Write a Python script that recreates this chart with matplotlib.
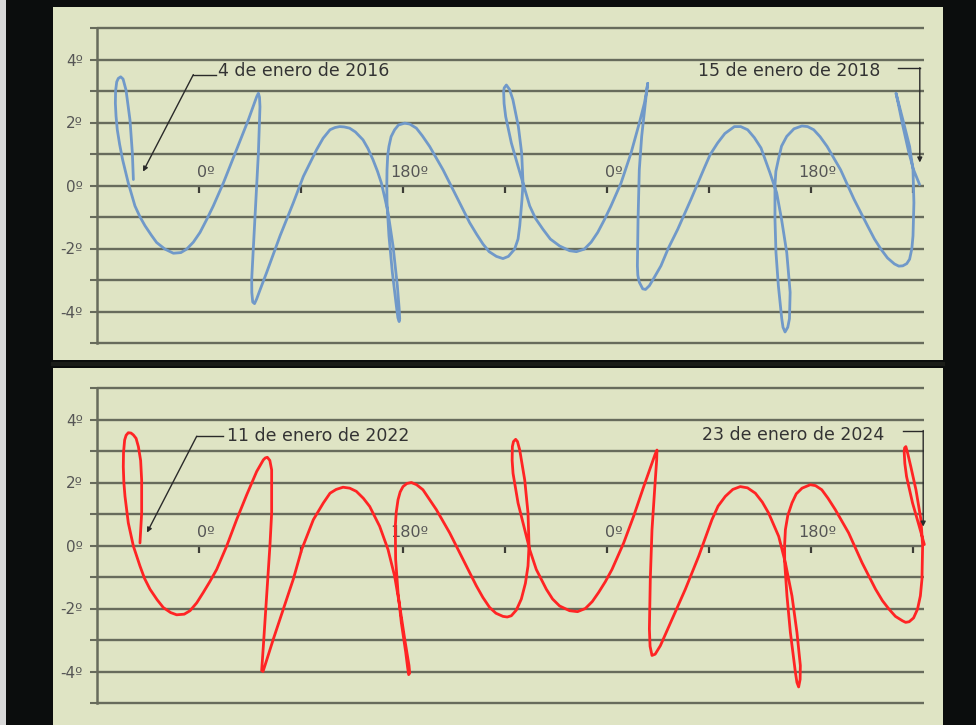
import matplotlib
matplotlib.use("Agg")
import matplotlib.pyplot as plt
from matplotlib.patches import Rectangle

plt.rcParams.update({
    "font.family": ["DejaVu Sans"],
    "font.size": 12,
})

# ---------------- data: (ecliptic longitude [deg], latitude [deg]) ----------------
blue_track = [
    (-57.9, 0.19), (-58.8, 1.03), (-60.9, 2.08), (-64.4, 3.03), (-67.0, 3.38), (-69.1, 3.45),
    (-71.2, 3.4), (-72.6, 3.29), (-73.6, 3.0), (-73.8, 2.61), (-73.2, 2.2), (-72.1, 1.77),
    (-70.0, 1.3), (-67.4, 0.82), (-62.4, 0.08), (-56.5, -0.65), (-52.0, -1.0), (-47.6, -1.28),
    (-42.0, -1.58), (-37.4, -1.81), (-30.0, -2.02), (-22.6, -2.15), (-16.0, -2.13),
    (-10.9, -2.02), (-5.0, -1.8), (0.9, -1.49), (6.5, -1.1), (12.6, -0.65), (21.5, 0.08),
    (33.2, 1.14), (43.5, 2.08), (50.9, 2.82), (52.4, 2.93), (53.4, 2.8), (53.8, 2.5),
    (52.4, 1.03), (50.9, 0.0), (48.5, -1.6), (46.5, -2.97), (46.6, -3.4), (47.4, -3.7),
    (49.0, -3.75), (50.9, -3.6), (54.0, -3.3), (59.7, -2.76), (71.5, -1.6), (83.2, -0.55),
    (92.1, 0.29), (103.8, 1.14), (109.5, 1.5), (115.6, 1.77), (120.0, 1.84), (124.1, 1.87),
    (128.0, 1.86), (132.9, 1.82), (138.0, 1.7), (144.7, 1.45), (149.0, 1.18), (153.5, 0.82),
    (157.5, 0.45), (160.9, 0.08), (164.0, -0.4), (166.8, -0.86), (171.2, -1.92),
    (175.0, -3.18), (176.6, -3.9), (177.1, -4.23), (176.6, -4.32), (175.5, -4.2),
    (174.1, -3.81), (170.6, -2.76), (167.6, -1.6), (165.9, -0.55), (165.7, 0.0),
    (165.9, 0.5), (166.5, 0.95), (167.6, 1.24), (169.5, 1.55), (172.6, 1.77), (176.0, 1.92),
    (181.5, 1.98), (186.0, 1.95), (191.8, 1.82), (197.0, 1.58), (203.5, 1.24), (215.3, 0.5),
    (227.1, -0.34), (238.8, -1.18), (245.0, -1.55), (250.6, -1.86), (256.0, -2.1),
    (262.4, -2.25), (268.2, -2.32), (273.0, -2.25), (278.5, -2.02), (281.5, -1.7),
    (283.0, -1.28), (285.0, -0.44), (285.9, 0.08), (284.7, 1.03), (281.8, 1.87),
    (277.0, 2.72), (274.0, 3.05), (271.2, 3.19), (269.3, 3.1), (268.8, 2.98), (269.2, 2.6),
    (270.6, 2.19), (275.6, 1.35), (281.5, 0.61), (286.5, 0.0), (291.8, -0.65),
    (297.0, -1.05), (303.5, -1.39), (310.0, -1.7), (318.2, -1.92), (327.0, -2.07),
    (333.0, -2.1), (340.0, -2.02), (346.0, -1.8), (351.8, -1.49), (357.5, -1.1),
    (363.5, -0.65), (372.4, 0.08), (381.2, 1.03), (388.5, 1.98), (393.0, 2.61),
    (395.0, 3.0), (395.9, 3.24), (395.0, 3.0), (393.5, 2.5), (390.6, 1.56), (388.5, 0.5),
    (387.4, -1.07), (386.8, -2.55), (387.2, -2.85), (388.5, -3.07), (391.5, -3.28),
    (394.0, -3.3), (397.4, -3.18), (402.0, -2.9), (407.6, -2.55), (414.0, -2.0),
    (422.4, -1.39), (434.1, -0.44), (445.9, 0.56), (451.0, 0.98), (457.6, 1.35),
    (464.0, 1.65), (472.4, 1.87), (478.0, 1.87), (484.1, 1.77), (490.0, 1.52),
    (495.9, 1.19), (503.8, 0.4), (509.7, -0.23), (514.0, -1.07), (518.6, -2.13),
    (521.6, -3.39), (521.0, -4.23), (519.5, -4.5), (517.1, -4.65), (515.3, -4.5),
    (514.2, -4.23), (511.2, -3.18), (509.1, -2.13), (508.2, -1.07), (508.2, 0.0),
    (509.0, 0.45), (511.2, 0.82), (514.0, 1.25), (518.6, 1.56), (525.0, 1.8), (532.0, 1.89),
    (537.0, 1.87), (542.4, 1.77), (548.0, 1.55), (554.2, 1.24), (566.1, 0.5), (578.0, -0.44),
    (589.9, -1.28), (596.0, -1.7), (601.7, -2.02), (607.5, -2.3), (613.6, -2.49),
    (617.5, -2.56), (621.0, -2.55), (624.5, -2.48), (627.0, -2.34), (629.0, -2.0),
    (630.0, -1.6), (630.8, -0.55), (630.0, 0.5), (627.0, 1.24), (621.1, 2.08), (615.0, 2.93),
    (617.0, 2.6), (621.0, 1.9), (626.0, 1.1), (630.5, 0.5), (635.8, 0.03),
]

red_track = [
    (-52.1, 0.08), (-50.6, 1.03), (-50.6, 2.08), (-51.5, 2.7), (-53.5, 3.14), (-55.5, 3.4),
    (-57.9, 3.51), (-60.0, 3.57), (-62.4, 3.58), (-64.3, 3.5), (-65.6, 3.35), (-66.6, 2.95),
    (-66.8, 2.5), (-66.3, 2.0), (-65.3, 1.56), (-62.4, 0.72), (-57.9, -0.02), (-52.1, -0.65),
    (-48.0, -1.05), (-43.2, -1.39), (-37.0, -1.72), (-31.5, -1.97), (-25.0, -2.13),
    (-19.7, -2.2), (-13.0, -2.18), (-7.9, -2.07), (-2.0, -1.82), (3.8, -1.49), (9.5, -1.15),
    (15.6, -0.76), (24.4, -0.02), (33.2, 0.82), (42.1, 1.61), (50.9, 2.35), (56.8, 2.72),
    (58.5, 2.78), (60.3, 2.8), (62.5, 2.7), (64.1, 2.4), (64.1, 1.03), (62.6, 0.0),
    (59.7, -1.6), (56.8, -3.18), (55.3, -3.97), (56.5, -4.0), (58.2, -3.81), (65.6, -2.97),
    (74.4, -2.02), (83.2, -1.07), (90.6, -0.13), (100.9, 0.82), (109.7, 1.35), (115.6, 1.66),
    (121.0, 1.78), (127.1, 1.85), (133.0, 1.82), (138.8, 1.72), (145.0, 1.5), (150.6, 1.24),
    (159.4, 0.61), (166.8, -0.13), (172.6, -0.97), (177.1, -1.92), (181.5, -2.97),
    (185.3, -3.81), (185.9, -4.05), (185.0, -4.1), (184.0, -3.85), (182.4, -3.39),
    (178.5, -2.44), (175.6, -1.49), (173.5, -0.44), (173.2, 0.61), (174.0, 1.05),
    (175.6, 1.45), (177.5, 1.7), (180.0, 1.87), (183.5, 1.97), (187.4, 2.0), (192.0, 1.93),
    (197.6, 1.77), (203.0, 1.48), (209.4, 1.14), (221.2, 0.4), (232.9, -0.44),
    (244.7, -1.28), (250.5, -1.65), (256.5, -1.97), (262.0, -2.15), (268.2, -2.25),
    (272.0, -2.27), (275.6, -2.23), (280.0, -2.05), (284.4, -1.7), (288.0, -1.2),
    (290.3, -0.65), (291.2, 0.0), (290.3, 1.03), (287.4, 2.08), (283.0, 3.03), (281.0, 3.3),
    (279.4, 3.37), (277.5, 3.3), (276.5, 3.14), (276.3, 2.7), (277.1, 2.29), (281.5, 1.35),
    (287.4, 0.5), (291.8, -0.13), (297.6, -0.76), (306.5, -1.39), (312.0, -1.7),
    (318.2, -1.92), (327.0, -2.07), (334.0, -2.1), (340.9, -2.0), (347.0, -1.78),
    (352.6, -1.49), (358.5, -1.15), (364.4, -0.76), (374.7, 0.08), (383.5, 0.93),
    (392.4, 1.87), (399.7, 2.61), (402.5, 2.9), (404.1, 3.03), (403.8, 2.7), (402.6, 2.08),
    (399.7, 0.5), (398.2, -1.07), (397.4, -2.65), (398.0, -3.2), (399.7, -3.49),
    (402.5, -3.45), (407.1, -3.18), (417.4, -2.34), (429.1, -1.39), (440.9, -0.34),
    (452.6, 0.82), (458.0, 1.25), (464.4, 1.56), (471.0, 1.78), (477.6, 1.87), (484.0, 1.83),
    (490.9, 1.66), (497.0, 1.38), (502.6, 1.03), (511.5, 0.29), (517.4, -0.55),
    (523.2, -1.6), (527.6, -2.76), (530.6, -3.81), (530.4, -4.25), (529.1, -4.49),
    (527.6, -4.35), (526.2, -4.02), (521.8, -2.76), (518.8, -1.6), (516.8, -0.55),
    (516.7, 0.0), (517.4, 0.5), (519.5, 0.95), (523.2, 1.35), (527.0, 1.64), (532.1, 1.82),
    (539.4, 1.93), (544.0, 1.9), (549.5, 1.77), (555.0, 1.5), (561.4, 1.14), (573.2, 0.4),
    (585.1, -0.55), (597.0, -1.39), (603.0, -1.75), (608.8, -2.02), (614.5, -2.25),
    (620.7, -2.39), (623.5, -2.44), (626.6, -2.42), (630.5, -2.3), (634.0, -2.02),
    (636.5, -1.6), (637.9, -1.07), (638.5, 0.0), (637.0, 0.82), (632.6, 1.77), (628.1, 2.5),
    (625.5, 2.9), (623.7, 3.14), (622.6, 3.1), (622.2, 2.98), (622.8, 2.6), (624.3, 2.19),
    (629.6, 1.35), (635.5, 0.61), (640.0, 0.03),
]

blue_lon = [p[0] for p in blue_track]
blue_lat = [p[1] for p in blue_track]
red_lon = [p[0] for p in red_track]
red_lat = [p[1] for p in red_track]

x_ticks = [0, 90, 180, 270, 360, 450, 540, 630]
x_labels = {0: "0º", 180: "180º", 360: "0º", 540: "180º"}
y_ticks = [-5, -4, -3, -2, -1, 0, 1, 2, 3, 4, 5]
y_labels = ["", "-4º", "", "-2º", "", "0º", "", "2º", "", "4º", ""]

start_dates = ["4 de enero de 2016", "11 de enero de 2022"]
end_dates = ["15 de enero de 2018", "23 de enero de 2024"]

BG_FIG = "#0b0d0d"
BG_PANEL = "#dfe4c4"
GRID = "#676b5c"
TXT = "#333333"
BLUE = "#7099c9"
RED = "#ff2424"

W, H = 976, 725


def fx(px):
    return px / W


def fy(py):
    return 1 - py / H


fig = plt.figure(figsize=(9.76, 7.25), dpi=100, facecolor=BG_FIG)
# thin light strip at the very left edge
fig.add_artist(Rectangle((0, 0), fx(6), 1, transform=fig.transFigure,
                         facecolor="#d8d8d8", edgecolor="none", zorder=-10))
# panel backgrounds
fig.add_artist(Rectangle((fx(53), fy(360)), fx(943 - 53), (360 - 7) / H,
                         transform=fig.transFigure, facecolor=BG_PANEL,
                         edgecolor="none", zorder=-10))
fig.add_artist(Rectangle((fx(53), 0), fx(943 - 53), (725 - 368) / H,
                         transform=fig.transFigure, facecolor=BG_PANEL,
                         edgecolor="none", zorder=-10))

XMIN, XMAX = -90, 640
YMIN, YMAX = -5.3, 5.3
PX_PER_LON = 102 / 90
PX_PER_LAT = 31.5


def make_axes(y5_px):
    left = 97
    width = (XMAX - XMIN) * PX_PER_LON
    top = y5_px - (YMAX - 5) * PX_PER_LAT
    height = (YMAX - YMIN) * PX_PER_LAT
    ax = fig.add_axes([fx(left), fy(top + height), width / W, height / H])
    ax.set_zorder(2)
    ax.patch.set_visible(False)
    ax.set_xlim(XMIN, XMAX)
    ax.set_ylim(YMIN, YMAX)
    for s in ["top", "right"]:
        ax.spines[s].set_visible(False)
    ax.spines["left"].set_bounds(-5, 5)
    ax.spines["left"].set_color(GRID)
    ax.spines["left"].set_linewidth(1.8)
    ax.spines["bottom"].set_position(("data", 0))
    ax.spines["bottom"].set_visible(False)
    ax.set_yticks(y_ticks)
    ax.set_yticklabels(y_labels)
    ax.tick_params(axis="y", direction="out", length=5, width=1.5, color=GRID,
                   labelcolor="#555555", labelsize=11, pad=5)
    ax.set_xticks(x_ticks)
    ax.set_xticklabels([""] * len(x_ticks))
    ax.tick_params(axis="x", direction="out", length=5, width=1.6, color="#3d3d36")
    ax.grid(axis="y", color=GRID, linewidth=1.7)
    ax.set_axisbelow(True)
    for t, lab in x_labels.items():
        ax.text(t + 6, 0.42, lab, ha="center", va="center", fontsize=11.5,
                color="#555555")
    return ax


ax_top = make_axes(28)
ax_bot = make_axes(388)

ax_top.plot(blue_lon, blue_lat, color=BLUE, lw=2.0, solid_joinstyle="round",
            solid_capstyle="round", clip_on=False, zorder=3)
ax_bot.plot(red_lon, red_lat, color=RED, lw=2.0, solid_joinstyle="round",
            solid_capstyle="round", clip_on=False, zorder=3)

# separator between the two panels
fig.add_artist(plt.Line2D([fx(53), fx(943)], [fy(364), fy(364)], color="#1a1c18",
                          lw=3, transform=fig.transFigure, zorder=-5))


def label_start(ax, text, tx, ty, hx0, hx1, hy, tip):
    ax.text(tx, ty, text, ha="left", va="center", fontsize=12.5, color=TXT)
    ax.plot([hx0, hx1], [hy, hy], color="#2a2a2a", lw=1.0, zorder=4)
    ax.annotate("", xy=tip, xytext=(hx0, hy),
                arrowprops=dict(arrowstyle="-|>", color="#2a2a2a", lw=1.0,
                                mutation_scale=7, shrinkA=0, shrinkB=0))


def label_end(ax, text, tx, ty, hx0, hx1, hy, tipy):
    ax.text(tx, ty, text, ha="right", va="center", fontsize=12.5, color=TXT)
    ax.plot([hx0, hx1], [hy, hy], color="#2a2a2a", lw=1.0, zorder=4)
    ax.annotate("", xy=(hx1, tipy), xytext=(hx1, hy),
                arrowprops=dict(arrowstyle="-|>", color="#2a2a2a", lw=1.0,
                                mutation_scale=7, shrinkA=0, shrinkB=0))


label_start(ax_top, start_dates[0], 16.8, 3.62, -5, 15, 3.52, (-49.4, 0.44))
label_end(ax_top, end_dates[0], 601, 3.62, 617, 636, 3.74, 0.73)
label_start(ax_bot, start_dates[1], 24.7, 3.49, -2, 21, 3.47, (-45.9, 0.41))
label_end(ax_bot, end_dates[1], 605, 3.52, 621, 639, 3.65, 0.6)

fig.savefig("out.png", dpi=100, facecolor=BG_FIG)
